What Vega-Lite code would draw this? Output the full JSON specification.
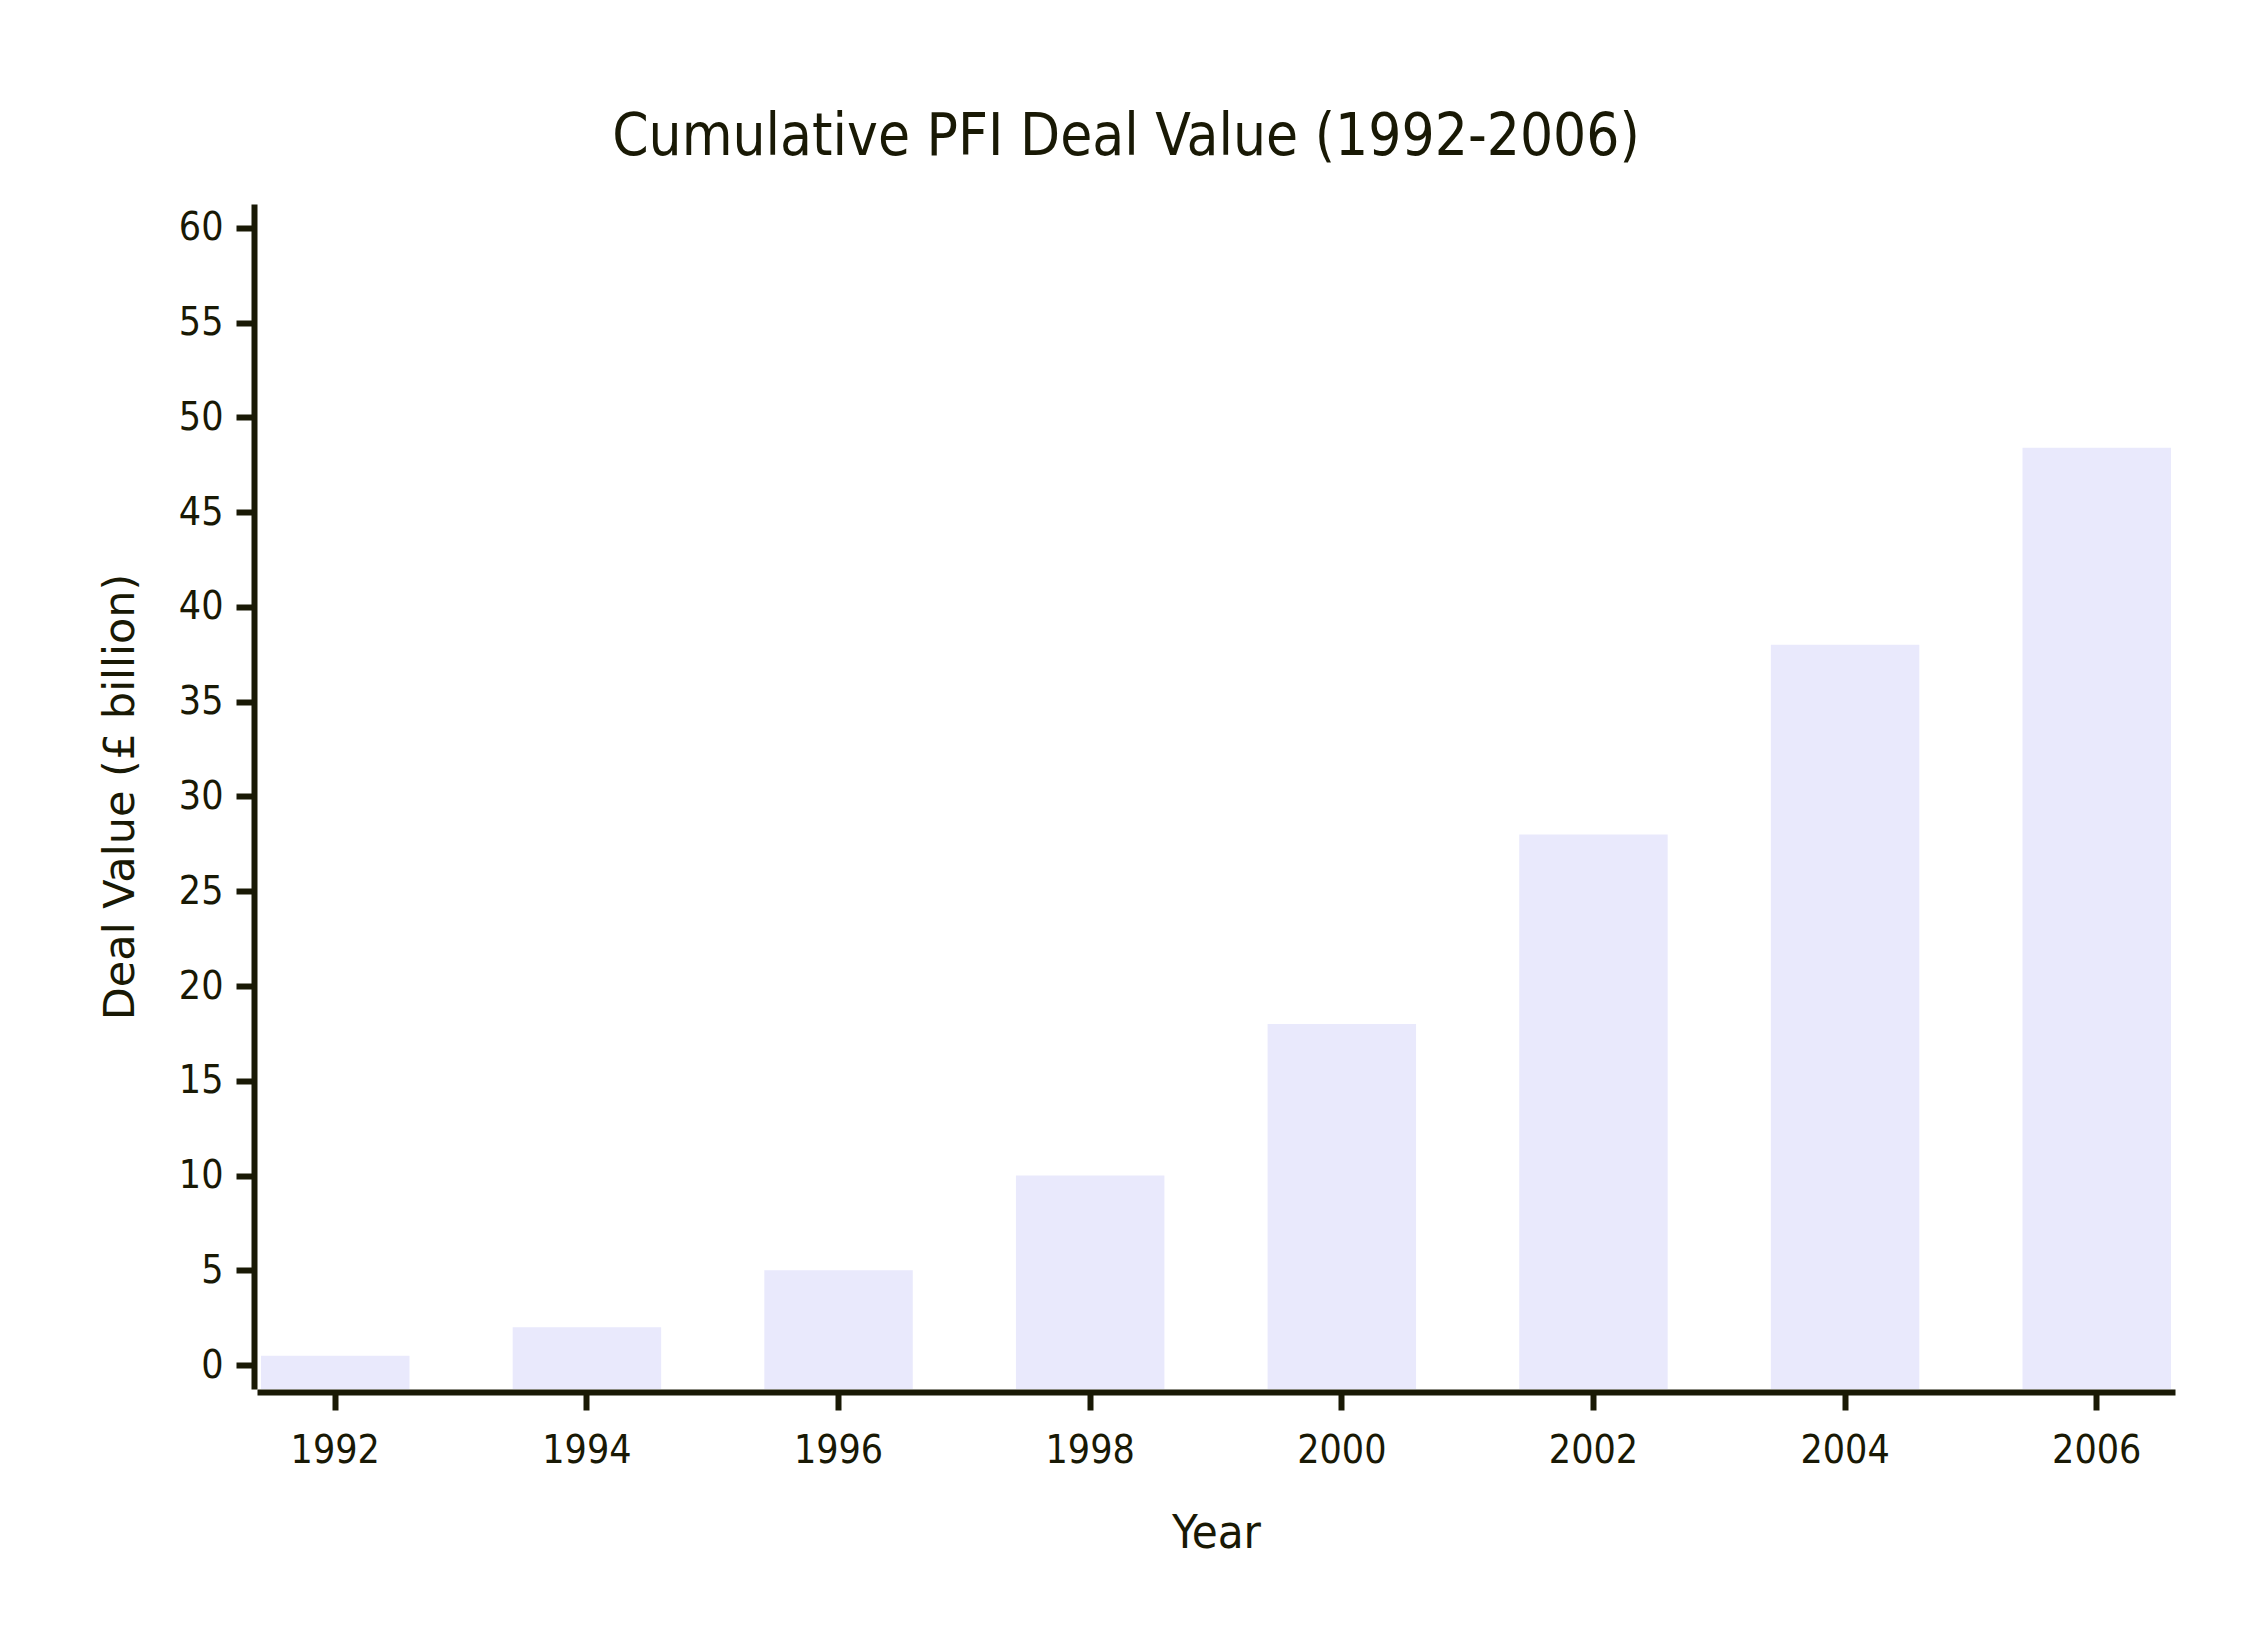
{
  "$schema": "https://vega.github.io/schema/vega-lite/v6.json",
  "autosize": {"type": "none"},
  "padding": {"left": 257, "top": 204, "right": 75, "bottom": 261},
  "width": 1918,
  "height": 1185,
  "background": "white",
  "title": {
    "text": "Cumulative PFI Deal Value (1992-2006)",
    "font": "DejaVu Sans Condensed, Lato",
    "fontSize": 58,
    "fontWeight": "normal",
    "color": "#191905",
    "anchor": "middle",
    "baseline": "alphabetic",
    "offset": -9,
    "dx": -90
  },
  "data": {
    "values": [
      {"Year": "1992", "Value": 0.5},
      {"Year": "1994", "Value": 2},
      {"Year": "1996", "Value": 5},
      {"Year": "1998", "Value": 10},
      {"Year": "2000", "Value": 18},
      {"Year": "2002", "Value": 28},
      {"Year": "2004", "Value": 38},
      {"Year": "2006", "Value": 48.4}
    ]
  },
  "mark": {"type": "bar", "color": "#e9e9fc"},
  "encoding": {
    "x": {
      "field": "Year",
      "type": "ordinal",
      "scale": {"paddingInner": 0.41, "paddingOuter": 0.016},
      "axis": {
        "title": "Year",
        "labelAngle": 0,
        "offset": 3,
        "domainWidth": 6,
        "domainColor": "#191905",
        "tickWidth": 6,
        "tickSize": 18,
        "tickColor": "#191905",
        "labelFont": "DejaVu Sans Condensed, Lato",
        "labelFontSize": 39,
        "labelColor": "#191905",
        "labelPadding": 21,
        "titleFont": "DejaVu Sans Condensed, Lato",
        "titleFontSize": 47,
        "titleFontWeight": "normal",
        "titleColor": "#191905",
        "titlePadding": 40,
        "grid": false
      }
    },
    "y": {
      "field": "Value",
      "type": "quantitative",
      "scale": {"domain": [-1.26, 61.26], "nice": false, "zero": false},
      "axis": {
        "title": "Deal Value (£ billion)",
        "values": [0, 5, 10, 15, 20, 25, 30, 35, 40, 45, 50, 55, 60],
        "offset": 3,
        "domainWidth": 6,
        "domainColor": "#191905",
        "tickWidth": 6,
        "tickSize": 18,
        "tickColor": "#191905",
        "labelFont": "DejaVu Sans Condensed, Lato",
        "labelFontSize": 39,
        "labelColor": "#191905",
        "labelPadding": 13,
        "titleFont": "DejaVu Sans",
        "titleFontSize": 43,
        "titleFontWeight": "normal",
        "titleColor": "#191905",
        "titlePadding": 36,
        "grid": false
      }
    },
    "y2": {"datum": -1.26}
  },
  "config": {"view": {"stroke": null}}
}
